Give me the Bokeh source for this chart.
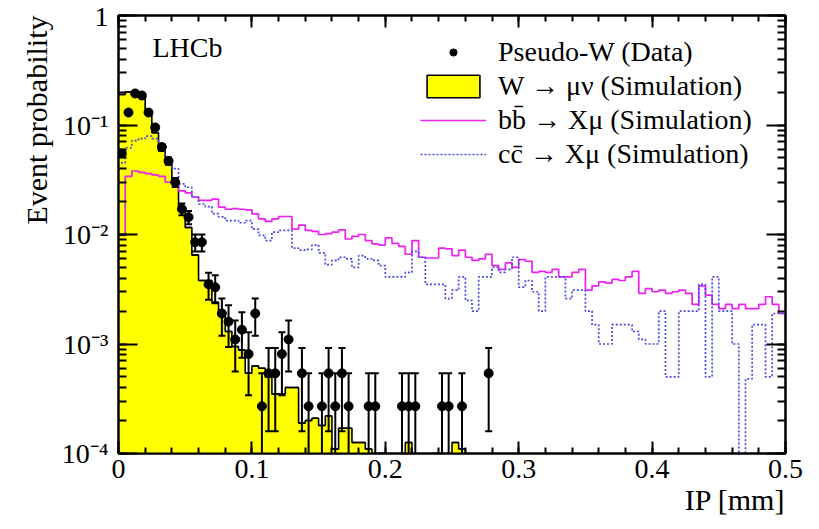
import numpy as np
from bokeh.plotting import figure
from bokeh.models import (ColumnDataSource, LinearAxis, LogAxis, SingleIntervalTicker, LogTicker,
                          CustomJSTickFormatter, Label, Legend, LegendItem, Title)
from bokeh.embed import file_html
from bokeh.resources import INLINE

# ---------------- data ----------------
N_BINS = 100
IP_MIN, IP_MAX = 0.0, 0.5
FLOOR = 1e-6

# W -> mu nu (Simulation), per 0.005 mm bin
w_sim = [0.19, 0.20, 0.195, 0.185, 0.13, 0.085, 0.058, 0.044, 0.029, 0.018,
         0.0116, 0.0065, 0.0038, 0.0038, 0.0024, 0.0018, 0.0013, 0.00095, 0.00088, 0.00054,
         0.00063, 0.0006, 0.0005, 0.00035, 0.00035, 0.0004, 0.0004, 0.00019, 0.0002, 0.00021,
         0.00018, 0.00022, 0.00011, 0.00017, 0.00017, 0.000126, 0.000126, 0.00011, 0.00009, 0.0001,
         0, 0, 0, 0.000126, 0, 0, 0, 0.0001, 0, 0,
         0.000126, 0.00011, 0, 0, 0, 0, 0, 0, 0, 0,
         0, 0, 0, 0, 0, 0, 0, 0, 0, 0,
         0, 0, 0, 0, 0, 0, 0, 0, 0, 0,
         0, 0, 0, 0, 0, 0, 0, 0, 0, 0,
         0, 0, 0, 0, 0, 0, 0, 0, 0, 0]

# b bbar -> X mu (Simulation)
bb_sim = [0.0098, 0.034, 0.038, 0.037, 0.036, 0.035, 0.034, 0.030, 0.029, 0.025,
          0.024, 0.022, 0.0205, 0.0205, 0.021, 0.0178, 0.0170, 0.0172, 0.0170, 0.0168,
          0.0154, 0.0139, 0.0132, 0.0139, 0.0146, 0.0146, 0.0112, 0.0122, 0.0109, 0.0107,
          0.0100, 0.0102, 0.0105, 0.0110, 0.0091, 0.0096, 0.0100, 0.0088, 0.0082, 0.0080,
          0.0093, 0.0083, 0.0078, 0.0066, 0.0088, 0.0062, 0.0061, 0.0061, 0.0075, 0.0074,
          0.0064, 0.0072, 0.0062, 0.0058, 0.0060, 0.0066, 0.0052, 0.0048, 0.0055, 0.0050,
          0.0059, 0.0057, 0.0045, 0.0046, 0.0045, 0.0048, 0.0041, 0.0041, 0.0045, 0.0048,
          0.0031, 0.0034, 0.0037, 0.0036, 0.0039, 0.0038, 0.0041, 0.0046, 0.0029, 0.0032,
          0.0030, 0.0031, 0.0029, 0.0030, 0.0031, 0.0029, 0.0023, 0.0034, 0.0028, 0.0023,
          0.0021, 0.0023, 0.0021, 0.0023, 0.0021, 0.0021, 0.0023, 0.0027, 0.0023, 0.0019]

# c cbar -> X mu (Simulation)
cc_sim = [0.045, 0.062, 0.072, 0.075, 0.079, 0.075, 0.058, 0.045, 0.040, 0.029,
          0.027, 0.022, 0.019, 0.018, 0.0155, 0.0145, 0.0134, 0.0134, 0.0128, 0.0134,
          0.0112, 0.0098, 0.0088, 0.0105, 0.0109, 0.0109, 0.0075, 0.0072, 0.0073, 0.0080,
          0.0068, 0.0053, 0.0058, 0.0062, 0.0060, 0.0050, 0.0064, 0.0060, 0.0058, 0.0052,
          0.0041, 0.0041, 0.0041, 0.0045, 0.0070, 0.0062, 0.0035, 0.0035, 0.0035, 0.0026,
          0.0031, 0.0041, 0.0025, 0.0020, 0.0041, 0.0041, 0.0050, 0.0045, 0.0048, 0.0062,
          0.0033, 0.0038, 0.0030, 0.0020, 0.0041, 0.0041, 0.0041, 0.0026, 0.0031, 0.0031,
          0.0020, 0.0015, 0.0010, 0.0010, 0.0015, 0.0015, 0.0015, 0.0013, 0.0011, 0.0010,
          0.0010, 0.0020, 0.0005, 0.0005, 0.0020, 0.0020, 0.0020, 0.0035, 0.0005, 0.0041,
          0.0020, 0.0020, 0.0010, 0, 0.00048, 0.0015, 0.0015, 0.0005, 0.0019, 0.0019]

# Pseudo-W (Data), first 56 bins, and their errors
data_prob = [0.055, 0.13, 0.194, 0.186, 0.13, 0.095, 0.063, 0.047, 0.030, 0.0171,
             0.0144, 0.0085, 0.0085, 0.0035, 0.0033, 0.0019, 0.0016, 0.0011, 0.00135, 0.00081,
             0.0019, 0.00027, 0.00054, 0.00054, 0.00081, 0.0011, 0, 0.00054, 0.00027, 0,
             0.00027, 0.00054, 0.00027, 0.00054, 0.00027, 0, 0, 0.00027, 0.00027, 0,
             0, 0, 0.00027, 0.00027, 0.00027, 0, 0, 0, 0.00027, 0.00027,
             0, 0.00027, 0, 0, 0, 0.00054]
data_err = [0.0039, 0.0059, 0.0072, 0.0071, 0.0059, 0.0051, 0.0041, 0.0036, 0.0028, 0.0021,
            0.0020, 0.0015, 0.0015, 0.00097, 0.00094, 0.00071, 0.00066, 0.00054, 0.0006, 0.00047,
            0.00071, 0.00027, 0.00038, 0.00038, 0.00047, 0.00054, 0, 0.00038, 0.00027, 0,
            0.00027, 0.00038, 0.00027, 0.00038, 0.00027, 0, 0, 0.00027, 0.00027, 0,
            0, 0, 0.00027, 0.00027, 0.00027, 0, 0, 0, 0.00027, 0.00027,
            0, 0.00027, 0, 0, 0, 0.00038]

x_tick_step = 0.1
FONT = "Liberation Serif"

edges = np.linspace(IP_MIN, IP_MAX, N_BINS + 1)
centers = 0.5 * (edges[:-1] + edges[1:])


def step_outline(vals):
    v = np.asarray(vals, dtype=float)
    v = np.where(v > 0, v, FLOOR)
    xs = [edges[0]]
    ys = [FLOOR]
    for i in range(len(v)):
        xs += [edges[i], edges[i + 1]]
        ys += [v[i], v[i]]
    xs.append(edges[len(v)])
    ys.append(FLOOR)
    return xs, ys


p = figure(width=819, height=529, x_range=(IP_MIN, IP_MAX), y_range=(1e-4, 1),
           y_axis_type="log", output_backend="svg", toolbar_location=None,
           min_border_left=118, min_border_right=34, min_border_top=15, min_border_bottom=76)
p.xgrid.visible = False
p.ygrid.visible = False
p.background_fill_color = "white"
p.border_fill_color = "white"
p.outline_line_color = "black"
p.outline_line_width = 2

# W histogram: filled area + black step outline
wx, wy = step_outline(w_sim)
p.patch(wx, wy, fill_color="#ffff00", line_color=None)
p.line(wx, wy, line_color="black", line_width=1.6)
# bin tops as flat quads (coincide with the outline; also give the legend its box)
w_arr = np.maximum(np.asarray(w_sim, dtype=float), FLOOR)
w_src = ColumnDataSource(dict(left=edges[:-1], right=edges[1:], top=w_arr, bottom=w_arr))
w_box = p.quad(left="left", right="right", top="top", bottom="bottom", source=w_src,
               fill_color="#ffff00", line_color="black", line_width=1.6)

# bb line
bx, by = step_outline(bb_sim)
bb_r = p.line(bx, by, line_color="#ee22ee", line_width=1.7)

# cc line
cx, cy = step_outline(cc_sim)
cc_r = p.line(cx, cy, line_color="#4a4ae6", line_width=1.7, line_dash="2 2")

# data points
d = np.asarray(data_prob, dtype=float)
e = np.asarray(data_err, dtype=float)
dm = d > 0
dx = centers[:len(d)][dm]
dy = d[dm]
de = e[dm]
lo = np.maximum(dy - de, FLOOR)
hi = dy + de
p.segment(x0=dx, y0=lo, x1=dx, y1=hi, line_color="black", line_width=2)
p.scatter(x=dx, y=hi, marker="dash", size=7, line_color="black", line_width=2)
p.scatter(x=dx[lo > FLOOR], y=lo[lo > FLOOR], marker="dash", size=7, line_color="black", line_width=2)
pts = p.scatter(x=dx, y=dy, size=9, fill_color="black", line_color="black")


def style_legend(lg):
    lg.padding = 0
    lg.margin = 0
    lg.spacing = 2
    lg.glyph_width = 66
    lg.label_height = 28
    lg.label_standoff = 12
    lg.label_text_font = FONT
    lg.label_text_font_size = "28px"
    lg.label_text_color = "black"
    lg.border_line_color = None
    lg.background_fill_alpha = 0


legend_dot = Legend(items=[LegendItem(label="Pseudo-W (Data)", renderers=[pts])])
style_legend(legend_dot)
legend_dot.glyph_height = 18
legend_dot.location = (302, 385)
p.add_layout(legend_dot)

legend = Legend(items=[
    LegendItem(label="W \u2192 \u03bc\u03bd (Simulation)", renderers=[w_box]),
    LegendItem(label="bb\u0304 \u2192 X\u03bc (Simulation)", renderers=[bb_r]),
    LegendItem(label="cc\u0304 \u2192 X\u03bc (Simulation)", renderers=[cc_r]),
])
style_legend(legend)
legend.glyph_height = 28
legend.location = (302, 283)
p.add_layout(legend)

# axes
xfmt = CustomJSTickFormatter(code="return Math.abs(tick) < 1e-9 ? '0' : tick.toFixed(1);")
yfmt = CustomJSTickFormatter(code="""
const e = Math.round(Math.log10(tick));
if (e === 0) return '1';
const sup = {'-': '\u207b', '0': '\u2070', '1': '\u00b9', '2': '\u00b2', '3': '\u00b3',
             '4': '\u2074', '5': '\u2075', '6': '\u2076', '7': '\u2077', '8': '\u2078', '9': '\u2079'};
return '10' + String(e).split('').map(c => sup[c]).join('');
""")
blank = CustomJSTickFormatter(code="return '';")


def style_axis(ax, major_in, minor_in):
    ax.axis_line_color = "black"
    ax.axis_line_width = 2
    ax.major_tick_line_color = "black"
    ax.major_tick_line_width = 2
    ax.minor_tick_line_color = "black"
    ax.minor_tick_line_width = 2
    ax.major_tick_in = major_in
    ax.major_tick_out = 0
    ax.minor_tick_in = minor_in
    ax.minor_tick_out = 0
    ax.major_label_text_font = FONT
    ax.major_label_text_font_size = "28px"
    ax.major_label_text_color = "black"


xb = p.xaxis[0]
xb.ticker = SingleIntervalTicker(interval=x_tick_step, num_minor_ticks=5)
xb.formatter = xfmt
style_axis(xb, 12, 6)
xb.major_label_standoff = 6

yl = p.yaxis[0]
yl.ticker = LogTicker(num_minor_ticks=10)
yl.formatter = yfmt
style_axis(yl, 19, 8)
yl.major_label_standoff = 10

xt = LinearAxis(ticker=SingleIntervalTicker(interval=x_tick_step, num_minor_ticks=5), formatter=blank)
style_axis(xt, 12, 6)
xt.major_label_standoff = 0
p.add_layout(xt, "above")

yr = LogAxis(ticker=LogTicker(num_minor_ticks=10), formatter=blank)
style_axis(yr, 19, 8)
yr.major_label_standoff = 0
p.add_layout(yr, "right")

# texts
p.add_layout(Label(x=34, y=406, x_units="screen", y_units="screen", text="LHCb",
                   text_font=FONT, text_font_size="28px", text_baseline="middle",
                   text_color="black"))
p.add_layout(Title(text="IP [mm]", align="right", text_font=FONT, text_font_size="30px",
                   text_font_style="normal", text_color="black", standoff=0), "below")
p.add_layout(Title(text="Event probability", align="right", text_font=FONT, text_font_size="30px",
                   text_font_style="normal", text_color="black", standoff=12), "left")

open("out.html", "w").write(file_html(p, INLINE))
